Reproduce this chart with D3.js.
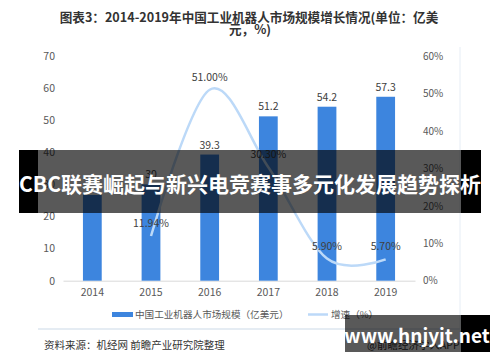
<!DOCTYPE html>
<html>
<head>
<meta charset="utf-8">
<script src="https://cdn.jsdelivr.net/npm/d3@7"></script>
<style>
  body { margin: 0; background: #fff; }
  svg text { font-family: "Noto Sans CJK SC", "Noto Sans", sans-serif; }
</style>
</head>
<body>
<div id="chart"></div>
<script>
// data
const years = ["2014", "2015", "2016", "2017", "2018", "2019"];
const marketSize = [26.7, 30, 39.3, 51.2, 54.2, 57.3];
const marketLabels = ["", "30", "39.3", "51.2", "54.2", "57.3"];
const growthYears = ["2015", "2016", "2017", "2018", "2019"];
const growth = [0.1194, 0.51, 0.303, 0.059, 0.057];
const leftTicks = [0, 10, 20, 30, 40, 50, 60, 70];
const rightTicks = [0, 0.1, 0.2, 0.3, 0.4, 0.5, 0.6];

function drawChart() {
    const width = 500, height = 362;
    const barColor = "#3d85de";
    const lineColor = "#bcd9f8";

    const svg = d3.select("#chart")
        .append("svg")
        .attr("width", width)
        .attr("height", height);

    svg.append("rect").attr("width", width).attr("height", height).attr("fill", "#fff");

    // title
    svg.append("text")
        .attr("x", 249).attr("y", 22)
        .attr("text-anchor", "middle")
        .style("font-size", "12.6px").style("font-weight", "bold").attr("fill", "#333")
        .text("图表3：2014-2019年中国工业机器人市场规模增长情况(单位：亿美");
    svg.append("text")
        .attr("x", 250).attr("y", 34)
        .attr("text-anchor", "middle")
        .style("font-size", "12.6px").style("font-weight", "bold").attr("fill", "#333")
        .text("元，%)");

    const x = d3.scaleBand().domain(years).range([63, 415]).paddingInner(0.68).paddingOuter(0.34);
    const y = d3.scaleLinear().domain([0, 70]).range([280.7, 56]);
    const y2 = d3.scaleLinear().domain([0, 0.6]).range([280.7, 56]);

    // left axis
    const gl = svg.append("g").attr("transform", "translate(56,0)")
        .call(d3.axisLeft(y).tickValues(leftTicks).tickSize(0).tickPadding(1));
    gl.select(".domain").remove();
    gl.selectAll("text").style("font-size", "10.5px").attr("fill", "#595959");

    // right axis
    const gr = svg.append("g").attr("transform", "translate(422,0)")
        .call(d3.axisRight(y2).tickValues(rightTicks).tickSize(0).tickPadding(1)
            .tickFormat(d3.format(".0%")));
    gr.select(".domain").remove();
    gr.selectAll("text").style("font-size", "10px").attr("fill", "#595959");

    // x axis
    const gx = svg.append("g").attr("transform", "translate(0,280.7)")
        .call(d3.axisBottom(x).tickSize(0).tickPadding(8));
    gx.select(".domain").attr("stroke", "#d9d9d9");
    gx.selectAll("text").style("font-size", "10.5px").attr("fill", "#595959");

    // bars
    svg.append("g").selectAll("rect")
        .data(years)
        .join("rect")
        .attr("x", d => x(d))
        .attr("width", x.bandwidth())
        .attr("y", (d, i) => y(marketSize[i]))
        .attr("height", (d, i) => y(0) - y(marketSize[i]))
        .attr("fill", barColor);

    svg.append("g").selectAll("text")
        .data(years)
        .join("text")
        .attr("x", d => x(d) + x.bandwidth() / 2)
        .attr("y", (d, i) => y(marketSize[i]) - 6)
        .attr("text-anchor", "middle")
        .style("font-size", "10.5px").attr("fill", "#404040")
        .text((d, i) => marketLabels[i]);

    // growth line
    const line = d3.line()
        .x((d, i) => x(growthYears[i]) + x.bandwidth() / 2)
        .y(d => y2(d))
        .curve(d3.curveCardinal.tension(0));

    svg.append("path")
        .datum(growth)
        .attr("d", line)
        .attr("fill", "none")
        .attr("stroke", lineColor)
        .attr("stroke-width", 2.5);

    svg.append("g").selectAll("text")
        .data(growth)
        .join("text")
        .attr("x", (d, i) => x(growthYears[i]) + x.bandwidth() / 2)
        .attr("y", d => y2(d) - 9)
        .attr("text-anchor", "middle")
        .style("font-size", "10.5px").attr("fill", "#404040")
        .text(d => d3.format(".2%")(d));

    // frame lines
    svg.append("line").attr("x1", 460).attr("x2", 460).attr("y1", 47).attr("y2", 329)
        .attr("stroke", "#e6edf5").attr("stroke-width", 1);
    svg.append("line").attr("x1", 38).attr("x2", 460).attr("y1", 329).attr("y2", 329)
        .attr("stroke", "#dde6ef").attr("stroke-width", 1.5);

    // legend
    svg.append("rect").attr("x", 112).attr("y", 312).attr("width", 21).attr("height", 5).attr("fill", barColor);
    svg.append("text").attr("x", 135).attr("y", 318)
        .style("font-size", "9.6px").attr("fill", "#595959")
        .text("中国工业机器人市场规模（亿美元）");
    svg.append("line").attr("x1", 308).attr("x2", 328).attr("y1", 314.5).attr("y2", 314.5)
        .attr("stroke", lineColor).attr("stroke-width", 2.5);
    svg.append("text").attr("x", 331).attr("y", 318)
        .style("font-size", "9.6px").attr("fill", "#595959")
        .text("增速（%）");

    // source
    svg.append("text").attr("x", 44).attr("y", 349)
        .style("font-size", "10.5px").attr("fill", "#333")
        .text("资料来源：机经网 前瞻产业研究院整理");
    svg.append("text").attr("x", 367).attr("y", 349)
        .style("font-size", "10.5px").attr("fill", "#333")
        .text("@前瞻经济学人APP");

    // banner overlay
    svg.append("rect").attr("x", 19).attr("y", 150).attr("width", 462).attr("height", 63)
        .attr("fill", "#000").attr("fill-opacity", 0.65);
    svg.append("rect").attr("x", 19).attr("y", 150).attr("width", 19).attr("height", 63).attr("fill", "#000");
    svg.append("rect").attr("x", 461).attr("y", 150).attr("width", 20).attr("height", 63).attr("fill", "#000");
    svg.append("text").attr("x", 250).attr("y", 192)
        .attr("text-anchor", "middle")
        .style("font-size", "21px").style("font-weight", "bold").attr("fill", "#fff")
        .text("CBC联赛崛起与新兴电竞赛事多元化发展趋势探析");

    // site watermark
    svg.append("rect").attr("x", 345).attr("y", 315).attr("width", 145).attr("height", 37)
        .attr("fill", "#000").attr("fill-opacity", 0.65);
    svg.append("rect").attr("x", 461).attr("y", 315).attr("width", 29).attr("height", 37).attr("fill", "#000");
    svg.append("text").attr("x", 417).attr("y", 343)
        .attr("text-anchor", "middle")
        .style("font-size", "19px").style("font-weight", "bold").attr("fill", "#fff")
        .text("www.hnjyjt.net");
}

drawChart();
</script>
</body>
</html>
